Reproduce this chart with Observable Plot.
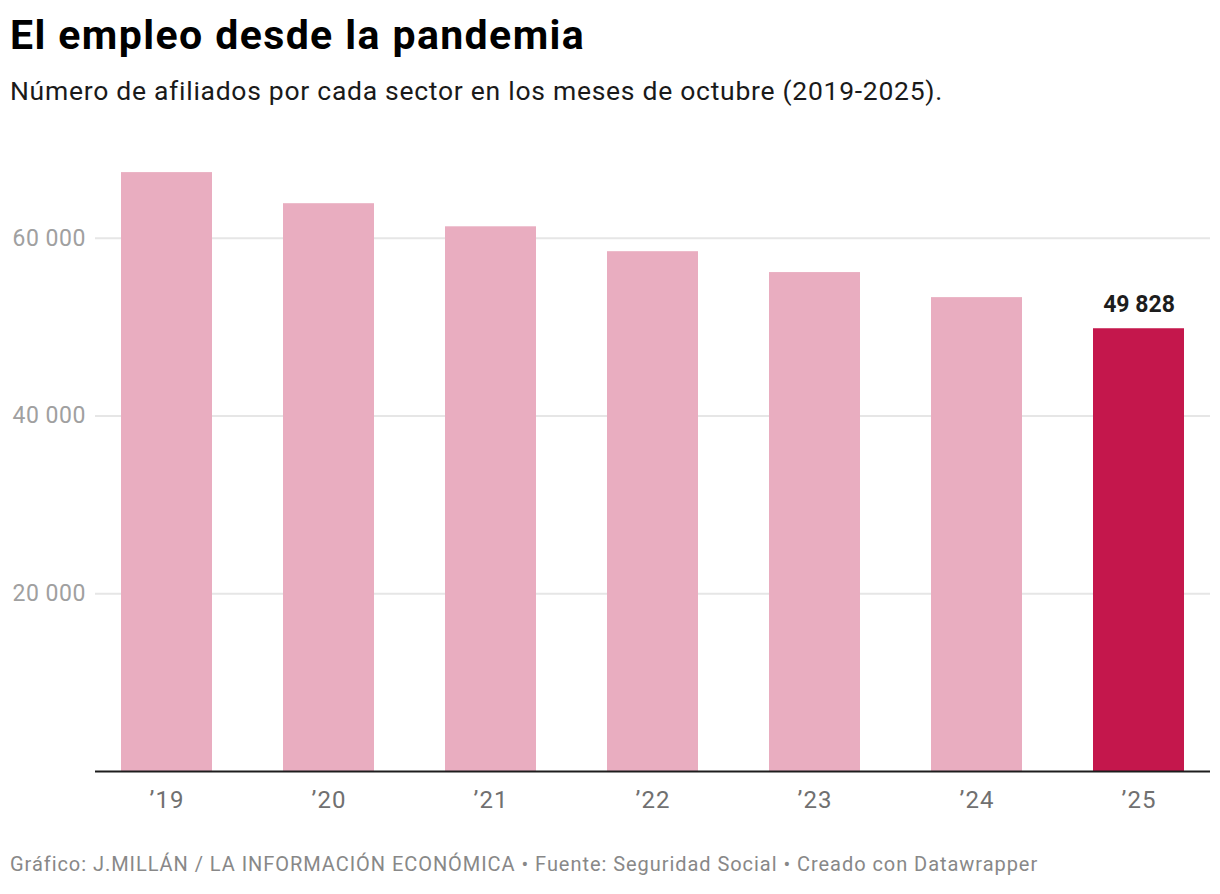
<!DOCTYPE html>
<html lang="es">
<head>
<meta charset="utf-8">
<script src="https://cdn.jsdelivr.net/npm/d3@7"></script>
<script src="https://cdn.jsdelivr.net/npm/@observablehq/plot@0.6"></script>
<style>
  html, body { margin: 0; padding: 0; background: #ffffff; }
  body { width: 1220px; height: 894px; position: relative; font-family: Roboto, "Noto Sans", sans-serif; overflow: hidden; }
  .title { position: absolute; left: 10px; top: 15px; font-size: 41px; line-height: 41px; font-weight: 700; letter-spacing: 1.4px; color: #000; white-space: nowrap; }
  .subtitle { position: absolute; left: 10px; top: 78px; font-size: 26.5px; line-height: 26.5px; letter-spacing: 0.72px; color: #1a1a1a; white-space: nowrap; }
  #chart { position: absolute; left: 0; top: 129px; }
  .footer { position: absolute; left: 10px; top: 854px; font-size: 20px; line-height: 20px; letter-spacing: 0.95px; color: #888888; white-space: nowrap; }
  #chart g[aria-label="x-axis tick label"] text { letter-spacing: 1px; }
  #chart g[aria-label="y-axis tick label"] text { letter-spacing: 0.5px; }
</style>
</head>
<body>
<div class="title">El empleo desde la pandemia</div>
<div class="subtitle">Número de afiliados por cada sector en los meses de octubre (2019-2025).</div>
<div id="chart"></div>
<div class="footer">Gráfico: J.MILLÁN / LA INFORMACIÓN ECONÓMICA • Fuente: Seguridad Social • Creado con Datawrapper</div>
<script>
// Afiliados en octubre de cada año
const years = ["’19", "’20", "’21", "’22", "’23", "’24", "’25"];
const afiliados = [67400, 63900, 61300, 58500, 56150, 53330, 49828];
const yTicks = [20000, 40000, 60000];
const highlightYear = "’25";

const data = years.map((year, i) => ({ year, value: afiliados[i] }));
const fmt = d => d3.format(",")(d).replace(/,/g, " ");

const chart = Plot.plot({
  width: 1220,
  height: 702,
  marginLeft: 95,
  marginRight: 10,
  marginTop: 20,
  marginBottom: 60,
  style: { fontFamily: "Roboto", fontSize: "23px", background: "transparent", overflow: "visible" },
  x: { domain: years, paddingInner: 0.44, paddingOuter: 0.15, align: 0.5, label: null },
  y: { domain: [0, 70000], label: null },
  color: { type: "identity" },
  marks: [
    Plot.gridY(yTicks, { stroke: "#e6e6e6", strokeOpacity: 1, strokeWidth: 2 }),
    Plot.axisY(yTicks, { tickSize: 0, tickPadding: 83, textAnchor: "start", tickFormat: fmt, fill: "#a0a0a0", label: null }),
    Plot.barY(data, {
      x: "year",
      y: "value",
      fill: d => d.year === highlightYear ? "#c4174c" : "#e9adc0"
    }),
    Plot.ruleY([0], { stroke: "#1d1d1d", strokeWidth: 2 }),
    Plot.axisX({ tickSize: 0, tickPadding: 19, fill: "#707070", fontSize: 24, label: null }),
    Plot.text(data.filter(d => d.year === highlightYear), {
      x: "year",
      y: "value",
      text: d => fmt(d.value),
      lineAnchor: "bottom",
      dy: -17,
      fontWeight: "bold",
      fill: "#1d1d1d"
    })
  ]
});
document.getElementById("chart").appendChild(chart);
</script>
</body>
</html>
